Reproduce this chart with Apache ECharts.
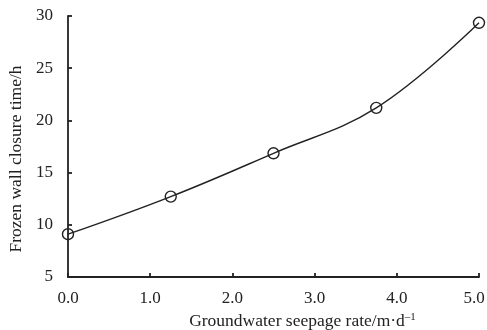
<!DOCTYPE html>
<html><head><meta charset="utf-8">
<script src="https://cdn.jsdelivr.net/npm/echarts@6/dist/echarts.min.js"></script>
<style>html,body{margin:0;padding:0;background:#fff}#c{width:487px;height:330px}</style>
</head><body><div id="c"></div>
<script>
const seepageRates = [0, 1.25, 2.5, 3.75, 5.0];
const closureTimes = [9.1, 12.7, 16.85, 21.2, 29.35];
const xTicks = [0, 1, 2, 3, 4, 5];
const yTicks = [5, 10, 15, 20, 25, 30];

const font = 'Liberation Serif, Times New Roman, serif';
const xMax = xTicks[xTicks.length-1];
const chart = echarts.init(document.getElementById('c'));
chart.setOption({
  animation: false,
  backgroundColor: '#fff',
  grid: {left: 68, right: 8, top: 16, bottom: 53, containLabel: false, outerBoundsMode: 'none'},
  xAxis: {
    type: 'value', min: xTicks[0], max: xMax, interval: 1,
    name: 'Groundwater seepage rate/m·d{sup|\u20131}', nameLocation: 'middle', nameGap: 35,
    nameTextStyle: {fontFamily: font, fontSize: 17.5, color: '#222', padding: [0, 0, 0, 58],
      rich: {sup: {fontFamily: font, fontSize: 11, color: '#222', verticalAlign: 'top', padding: [0, 0, 6, 0]}}},
    axisLine: {lineStyle: {color: '#222', width: 1.8}},
    axisTick: {inside: true, length: 4, lineStyle: {color: '#222', width: 1.8}},
    splitLine: {show: false},
    axisLabel: {fontFamily: font, fontSize: 17, color: '#222', margin: 13,
      formatter: v => v === xMax ? '{last|' + v.toFixed(1) + '}' : v.toFixed(1),
      rich: {last: {fontFamily: font, fontSize: 17, color: '#222', padding: [0, 10, 0, 0]}}}
  },
  yAxis: {
    type: 'value', min: yTicks[0], max: yTicks[yTicks.length-1], interval: 5,
    name: 'Frozen wall closure time/h', nameLocation: 'middle', nameGap: 42,
    nameTextStyle: {fontFamily: font, fontSize: 17.5, color: '#222', padding: [0, 25, 0, 0]},
    axisLine: {show: true, lineStyle: {color: '#222', width: 1.8}},
    axisTick: {show: true, inside: true, length: 4, lineStyle: {color: '#222', width: 1.8}},
    splitLine: {show: false},
    axisLabel: {fontFamily: font, fontSize: 17, color: '#222', margin: 15}
  },
  series: [{
    type: 'line',
    data: seepageRates.map((x, i) => [x, closureTimes[i]]),
    smooth: 0.4,
    symbol: 'circle', symbolSize: 11,
    lineStyle: {color: '#222', width: 1.4},
    itemStyle: {color: 'rgba(255,255,255,0)', borderColor: '#222', borderWidth: 1.4}
  }]
});
</script></body></html>
